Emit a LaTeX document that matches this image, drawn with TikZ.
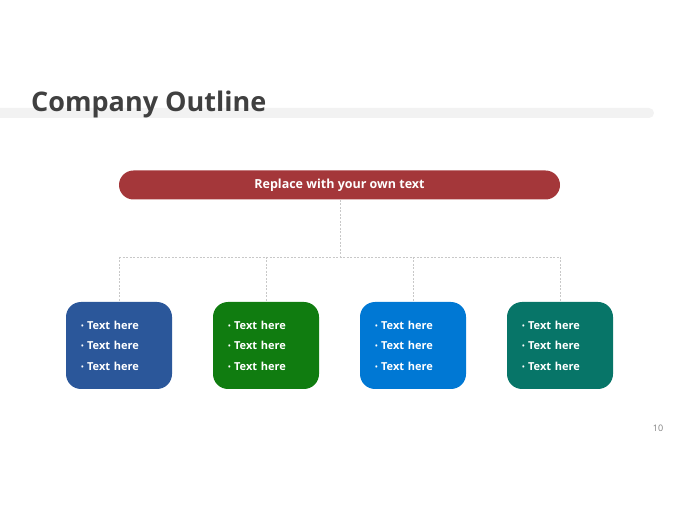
\documentclass[tikz,border=0pt]{standalone}
\usepackage{fontspec}
\setmainfont{Open Sans}
\definecolor{titlegray}{HTML}{404040}
\definecolor{barbg}{HTML}{F2F2F2}
\definecolor{topred}{HTML}{A4373A}
\definecolor{cblue}{HTML}{2B579A}
\definecolor{cgreen}{HTML}{107C10}
\definecolor{clblue}{HTML}{0078D4}
\definecolor{cteal}{HTML}{077568}
\definecolor{dashgray}{HTML}{C8C8C8}
\begin{document}
\begin{tikzpicture}[x=1pt,y=-1pt,
  topbox/.style={fill=topred, rounded corners=14.5pt, minimum width=441pt, minimum height=29pt, inner sep=0pt, text=white, font=\fontsize{12.5}{14}\selectfont\bfseries},
  itembox/.style={fill=#1, rounded corners=15pt, minimum width=106pt, minimum height=87pt, inner sep=0pt, text=white, font=\fontsize{11}{20.5}\selectfont\bfseries, align=left, text width=76pt},
  conn/.style={draw=dashgray, dashed, dash pattern=on 2pt off 1.5pt, line width=0.6pt}]
\useasboundingbox (0,0) rectangle (680,510);
\fill[barbg, rounded corners=5pt] (-10,108) rectangle (654,118);
\node[anchor=base west, text=titlegray, font=\fontsize{27}{30}\selectfont\bfseries, inner sep=0pt] (title) at (31,112) {Company Outline};
\node[topbox, yshift=-1.5pt] (top) at (339.5,183.5) {Replace with your own text};
\coordinate (hub) at (340,257);
\coordinate (h1) at (119,257);
\coordinate (h2) at (266,257);
\coordinate (h3) at (413,257);
\coordinate (h4) at (560,257);
\newcommand{\bul}{{\fontsize{7}{7}\selectfont\raisebox{1pt}{•}}\hspace{3.5pt}}
\newcommand{\items}{\bul Text here\\\bul Text here\\\bul Text here}
\node[itembox=cblue] (b1) at (119,345.5) {\items};
\node[itembox=cgreen] (b2) at (266,345.5) {\items};
\node[itembox=clblue] (b3) at (413,345.5) {\items};
\node[itembox=cteal] (b4) at (560,345.5) {\items};
\draw[conn] (top.south -| hub) -- (hub);
\draw[conn] (h1) -- (h4);
\draw[conn] (h1) -- (b1.north);
\draw[conn] (h2) -- (b2.north);
\draw[conn] (h3) -- (b3.north);
\draw[conn] (h4) -- (b4.north);
\node[text=gray, font=\fontsize{9}{10}\selectfont, inner sep=0pt] (pg) at (658,428) {10};
\end{tikzpicture}
\end{document}
